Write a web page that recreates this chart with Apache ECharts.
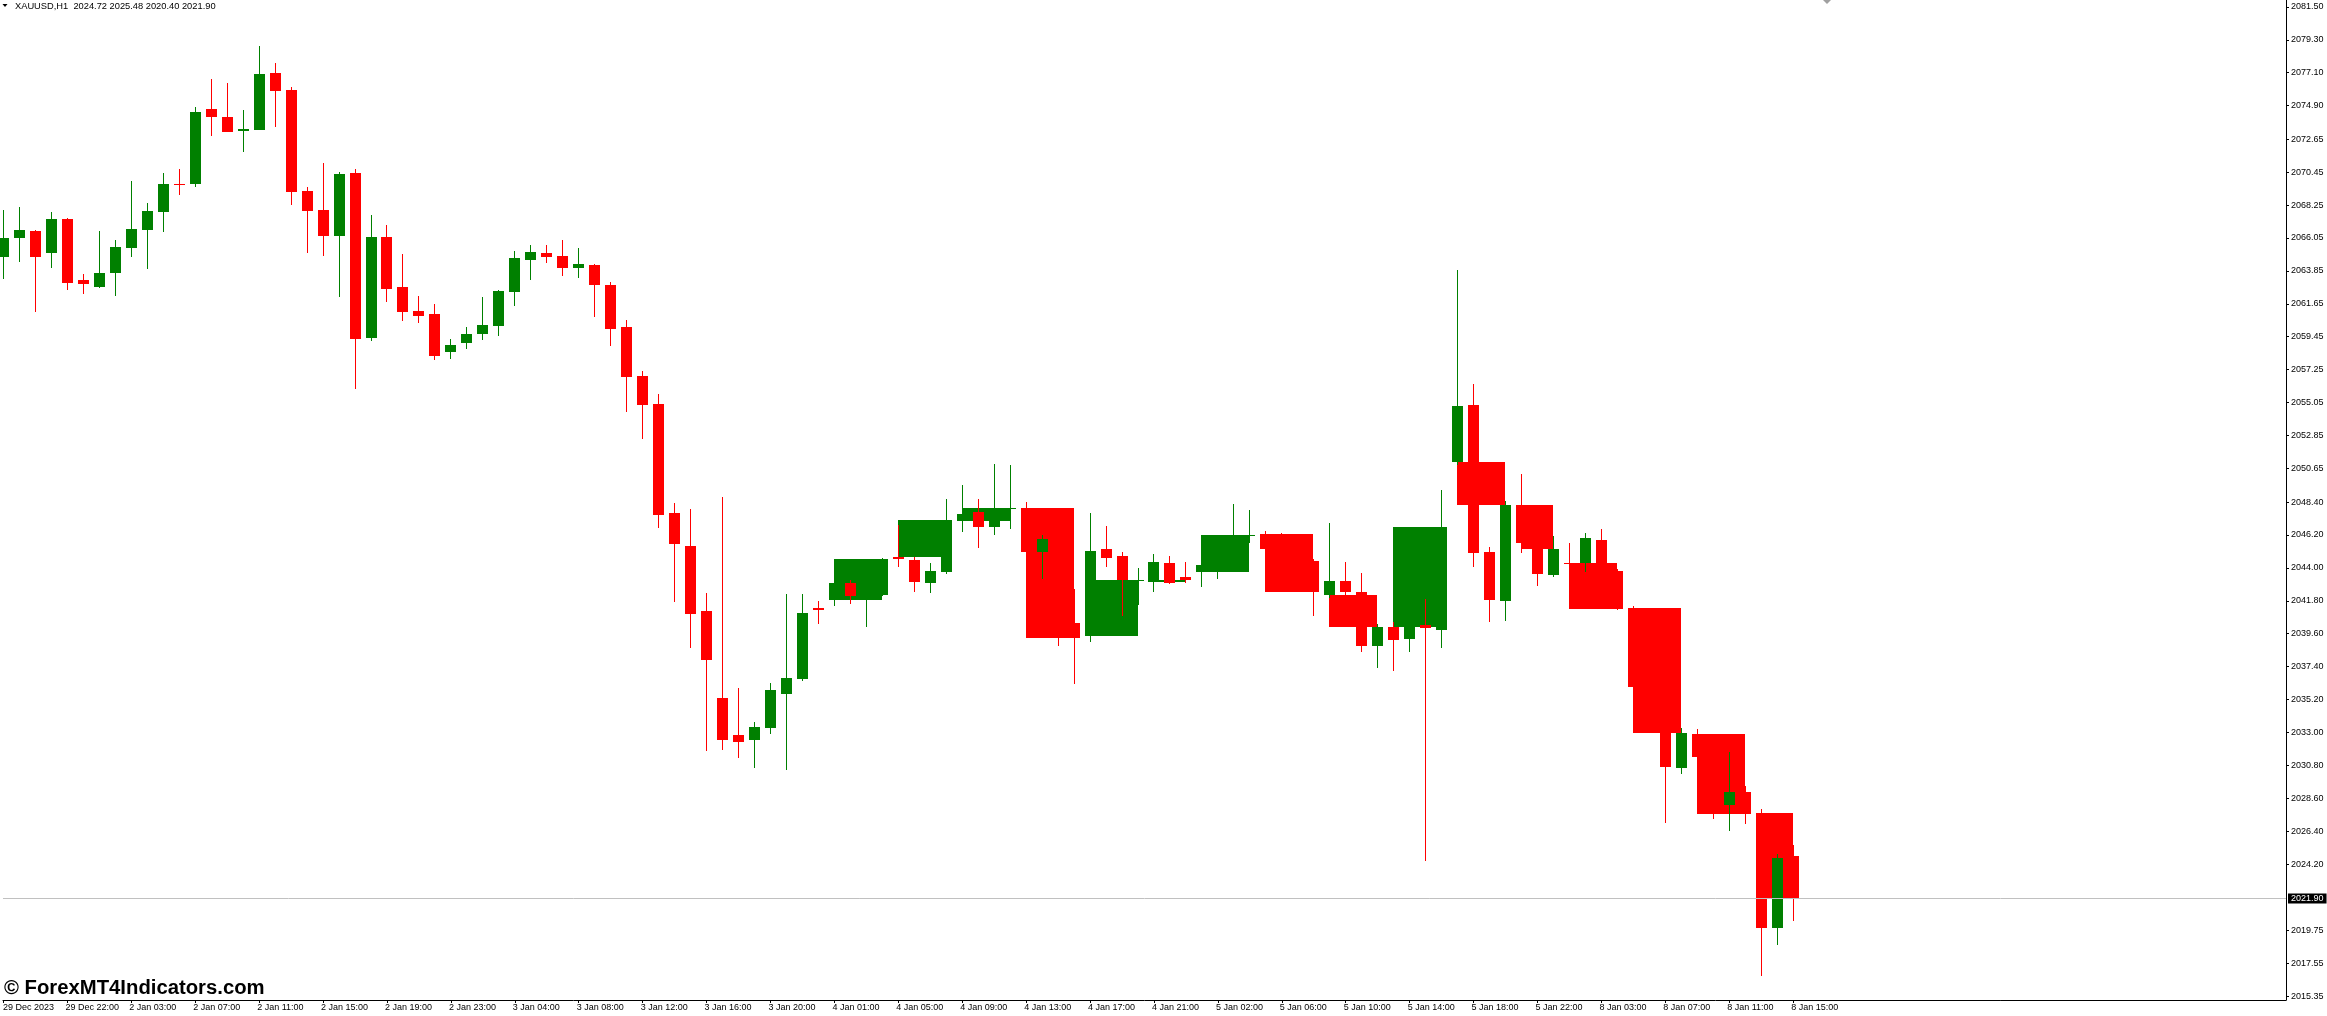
<!DOCTYPE html>
<html>
<head>
<meta charset="utf-8">
<script src="https://cdn.jsdelivr.net/npm/echarts@6/dist/echarts.min.js"></script>
<style>
html,body{margin:0;padding:0;background:#fff;}
#chart{width:2327px;height:1016px;}
</style>
</head>
<body>
<div id="chart"></div>
<script>
// ---- data (XAUUSD H1) ----
const titleText = 'XAUUSD,H1  2024.72 2025.48 2020.40 2021.90';
const lastPrice = 2021.90;

const opens = [
2064.80,2066.05,2066.52,2065.05,2067.32,2063.24,2062.78,2063.71,2065.38,2066.59,
2067.79,2069.66,2069.66,2074.67,2074.14,2073.20,2073.27,2077.08,2075.94,2069.19,
2067.92,2066.18,2070.40,2059.37,2066.12,2062.78,2061.17,2060.97,2058.43,2059.03,
2059.63,2060.17,2062.44,2064.58,2065.05,2064.85,2064.05,2064.25,2062.91,2060.10,
2056.83,2054.95,2047.67,2045.46,2041.12,2035.30,2032.83,2032.49,2033.30,2035.57,
2036.57,2041.32,2041.85,2042.99,2042.12,2042.19,2044.73,2044.53,2042.99,2043.72,
2047.13,2047.73,2046.73,2047.93,2048.00,2045.06,2045.93,2040.31,2039.45,2045.26,
2044.79,2043.17,2043.06,2044.33,2043.39,2043.73,2044.19,2045.20,2046.11,2046.27,
2045.26,2044.60,2044.46,2042.19,2043.12,2042.39,2038.78,2040.05,2039.25,2040.18,
2039.85,2051.08,2054.89,2045.06,2041.79,2048.20,2045.66,2043.52,2044.33,2044.33,
2045.86,2043.79,2041.32,2036.04,2034.00,2030.65,2032.90,2031.36,2028.15,2029.02,
2027.61,2019.93,2024.72];
const highs = [
2067.92,2068.12,2066.60,2067.79,2067.39,2063.64,2066.52,2065.92,2069.86,2068.39,
2070.40,2070.66,2074.81,2076.68,2076.41,2074.61,2078.89,2077.75,2076.15,2069.46,
2071.06,2070.46,2070.66,2067.59,2066.92,2064.98,2062.17,2061.64,2059.30,2060.10,
2062.11,2062.58,2065.18,2065.58,2065.58,2065.92,2065.38,2064.31,2063.10,2060.57,
2057.16,2055.62,2048.34,2047.93,2042.32,2048.74,2035.97,2033.70,2036.30,2042.25,
2042.25,2041.79,2043.00,2043.19,2042.60,2044.68,2046.86,2044.73,2044.33,2048.60,
2049.54,2048.60,2050.94,2050.88,2048.40,2046.20,2046.05,2042.59,2047.67,2046.80,
2045.06,2043.99,2044.93,2044.79,2044.39,2044.20,2045.50,2048.27,2047.87,2046.47,
2046.33,2045.00,2044.60,2046.99,2044.39,2043.66,2040.25,2040.38,2040.30,2041.92,
2049.21,2063.90,2056.29,2045.40,2048.47,2050.28,2045.90,2046.13,2045.66,2046.33,
2046.60,2043.90,2041.45,2036.30,2034.30,2033.30,2033.23,2031.60,2031.69,2029.42,
2027.88,2024.87,2025.48];
const lows = [
2063.33,2064.45,2061.10,2064.05,2062.58,2062.31,2062.71,2062.17,2064.78,2063.98,
2066.45,2068.93,2069.46,2072.87,2073.12,2071.80,2073.25,2073.47,2068.26,2065.05,
2064.85,2062.11,2055.96,2059.16,2061.77,2060.50,2060.37,2057.90,2057.96,2058.63,
2059.23,2059.50,2061.51,2063.24,2064.38,2063.51,2063.38,2060.77,2058.83,2054.42,
2052.61,2046.66,2041.72,2038.64,2031.76,2031.83,2031.29,2030.62,2032.90,2030.49,
2036.44,2040.25,2041.45,2041.59,2040.05,2042.10,2044.06,2042.39,2042.32,2043.59,
2046.40,2045.33,2046.20,2046.60,2044.80,2043.26,2038.78,2036.24,2039.04,2044.06,
2040.78,2041.52,2042.39,2042.95,2042.99,2042.72,2043.26,2044.90,2045.66,2045.10,
2044.20,2043.40,2040.78,2042.00,2042.10,2038.38,2037.31,2037.11,2038.38,2024.40,
2038.64,2050.90,2044.06,2040.38,2040.45,2044.99,2042.79,2043.40,2043.90,2043.73,
2043.50,2041.18,2035.50,2033.20,2026.95,2030.24,2031.00,2027.21,2026.41,2026.88,
2016.72,2018.79,2020.40];
const closes = [
2066.05,2066.59,2064.80,2067.32,2063.04,2063.00,2063.71,2065.45,2066.65,2067.86,
2069.66,2069.59,2074.47,2074.14,2073.14,2073.34,2077.01,2075.88,2069.13,2067.86,
2066.18,2070.33,2059.30,2066.12,2062.64,2061.10,2060.84,2058.16,2058.90,2059.63,
2060.23,2062.51,2064.71,2065.12,2064.78,2064.05,2064.31,2062.91,2059.97,2056.76,
2054.89,2047.53,2045.60,2040.92,2037.84,2032.49,2032.36,2033.36,2035.84,2036.64,
2040.98,2041.18,2042.99,2042.12,2042.20,2044.59,2044.59,2043.06,2043.79,2047.20,
2047.60,2046.73,2047.40,2048.00,2045.06,2045.93,2040.31,2039.31,2045.13,2044.66,
2043.19,2043.20,2044.39,2042.99,2043.19,2044.19,2045.20,2046.10,2046.20,2045.26,
2044.60,2044.46,2042.39,2043.12,2042.39,2038.78,2040.05,2039.18,2040.18,2039.98,
2046.73,2054.82,2044.99,2041.85,2048.20,2045.66,2043.59,2045.26,2044.28,2045.99,
2043.79,2041.25,2036.04,2034.00,2030.71,2032.96,2031.36,2028.15,2029.02,2027.55,
2019.93,2024.61,2021.90];

// groups of hourly bars shown as block bodies (first bar index, last bar index)
const blockGroups = [
[52,55],[56,59],[60,63],[64,67],[68,71],[72,74],[75,78],[79,82],
[83,86],[87,90],[91,94],[95,97],[98,101],[102,105],[106,109],[110,112]];

const timeLabelIdx = [0,4,8,12,16,20,24,28,32,36,40,44,48,52,56,60,64,68,72,76,80,84,88,92,96,100,104,108,112];
const timeLabels = ['29 Dec 2023','29 Dec 22:00','2 Jan 03:00','2 Jan 07:00','2 Jan 11:00','2 Jan 15:00',
'2 Jan 19:00','2 Jan 23:00','3 Jan 04:00','3 Jan 08:00','3 Jan 12:00','3 Jan 16:00','3 Jan 20:00',
'4 Jan 01:00','4 Jan 05:00','4 Jan 09:00','4 Jan 13:00','4 Jan 17:00','4 Jan 21:00','5 Jan 02:00',
'5 Jan 06:00','5 Jan 10:00','5 Jan 14:00','5 Jan 18:00','5 Jan 22:00','8 Jan 03:00','8 Jan 07:00',
'8 Jan 11:00','8 Jan 15:00'];

const priceTicks = [2015.35,2017.55,2019.75,2024.20,2026.40,2028.60,2030.80,2033.00,2035.20,2037.40,
2039.60,2041.80,2044.00,2046.20,2048.40,2050.65,2052.85,2055.05,2057.25,2059.45,2061.65,2063.85,
2066.05,2068.25,2070.45,2072.65,2074.90,2077.10,2079.30,2081.50];

// ---- build ----
const GREEN = '#008000', RED = '#ff0000';
const FONT = 'Liberation Sans, Arial, sans-serif';
const X_MIN = -0.03125, X_MAX = 142.84375;

const candleData = opens.map((o, i) => [i, o, highs[i], lows[i], closes[i]]);
const blockData = blockGroups.map(g => [g[0], g[1], opens[g[0]], closes[g[1]]]);
const labelMap = {};
timeLabelIdx.forEach((v, k) => { labelMap[v] = timeLabels[k]; });
// label text starts a couple of pixels left of the bar position
const labelPos = timeLabelIdx.map(v => Math.max(v - 0.125, X_MIN + 0.001));

function renderCandle(params, api) {
  const i = api.value(0), o = api.value(1), h = api.value(2), l = api.value(3), c = api.value(4);
  const cx = Math.floor(api.coord([i, o])[0]);
  const yo = Math.round(api.coord([i, o])[1]);
  const yc = Math.round(api.coord([i, c])[1]);
  const yh = Math.round(api.coord([i, h])[1]);
  const yl = Math.round(api.coord([i, l])[1]);
  const color = c >= o ? GREEN : RED;
  const top = Math.min(yo, yc), bot = Math.max(yo, yc);
  return {
    type: 'group',
    children: [
      {type: 'rect', shape: {x: cx, y: yh, width: 1, height: Math.max(1, yl - yh)}, style: {fill: color}},
      {type: 'rect', shape: {x: cx - 5, y: top, width: 11, height: Math.max(1, bot - top)}, style: {fill: color}}
    ]
  };
}

function renderBlock(params, api) {
  const s = api.value(0), e = api.value(1), o = api.value(2), c = api.value(3);
  const p1 = api.coord([s, Math.max(o, c)]);
  const p2 = api.coord([e, Math.min(o, c)]);
  const x1 = Math.floor(p1[0]), x2 = Math.floor(p2[0]);
  const y1 = Math.round(p1[1]), y2 = Math.round(p2[1]);
  return {
    type: 'rect',
    shape: {x: x1, y: y1, width: x2 - x1, height: Math.max(1, y2 - y1)},
    style: {fill: c >= o ? GREEN : RED}
  };
}

const chart = echarts.init(document.getElementById('chart'), null, {renderer: 'canvas'});
chart.setOption({
  animation: false,
  backgroundColor: '#ffffff',
  grid: {left: 0, top: 0, width: 2286, height: 1000, containLabel: false},
  xAxis: {
    type: 'value', min: X_MIN, max: X_MAX,
    axisLine: {show: true, lineStyle: {color: '#000', width: 1}},
    axisTick: {show: true, customValues: timeLabelIdx, length: 3, lineStyle: {color: '#000'}},
    axisLabel: {
      customValues: labelPos,
      formatter: v => labelMap[Math.round(v)] || '',
      align: 'left', fontSize: 9, fontFamily: FONT, color: '#000', margin: 3
    },
    splitLine: {show: false}
  },
  yAxis: {
    type: 'value', position: 'right', min: 2015.115, max: 2081.96,
    axisLine: {show: true, onZero: false, lineStyle: {color: '#000', width: 1}},
    axisTick: {show: true, customValues: priceTicks, length: 3, lineStyle: {color: '#000'}},
    axisLabel: {
      customValues: priceTicks,
      formatter: v => Number(v).toFixed(2),
      fontSize: 9, fontFamily: FONT, color: '#000', margin: 5
    },
    splitLine: {show: false}
  },
  series: [
    {
      type: 'custom', name: 'blocks', z: 1,
      renderItem: renderBlock,
      encode: {x: [0, 1], y: [2, 3]},
      data: blockData, silent: true
    },
    {
      type: 'custom', name: 'candles', z: 2,
      renderItem: renderCandle,
      encode: {x: 0, y: [1, 2, 3, 4]},
      data: candleData, silent: true
    },
    {
      type: 'line', name: 'bid', data: [], z: 0, silent: true,
      markLine: {
        silent: true, symbol: ['none', 'none'], animation: false,
        lineStyle: {color: '#c0c0c0', width: 1, type: 'solid'},
        label: {
          show: true, position: 'end', distance: 2,
          formatter: lastPrice.toFixed(2),
          color: '#fff', backgroundColor: '#000', padding: [1, 3, 0, 3],
          fontSize: 9, fontFamily: FONT, lineHeight: 9
        },
        data: [{yAxis: lastPrice}]
      }
    }
  ],
  graphic: [
    {type: 'polygon', shape: {points: [[2.5, 4], [7.5, 4], [5, 7]]}, style: {fill: '#000'}, silent: true},
    {type: 'text', style: {x: 15, y: 6, text: titleText, fill: '#000', font: '9.3px ' + FONT, verticalAlign: 'middle', align: 'left'}, silent: true},
    {type: 'polygon', shape: {points: [[1823, 0], [1831, 0], [1827, 4]]}, style: {fill: '#a0a0a0'}, silent: true},
    {type: 'text', style: {x: 4, y: 998, text: '\u00a9 ForexMT4Indicators.com', fill: '#000', font: 'bold 20.3px ' + FONT, verticalAlign: 'bottom', align: 'left'}, silent: true}
  ]
});
</script>
</body>
</html>
